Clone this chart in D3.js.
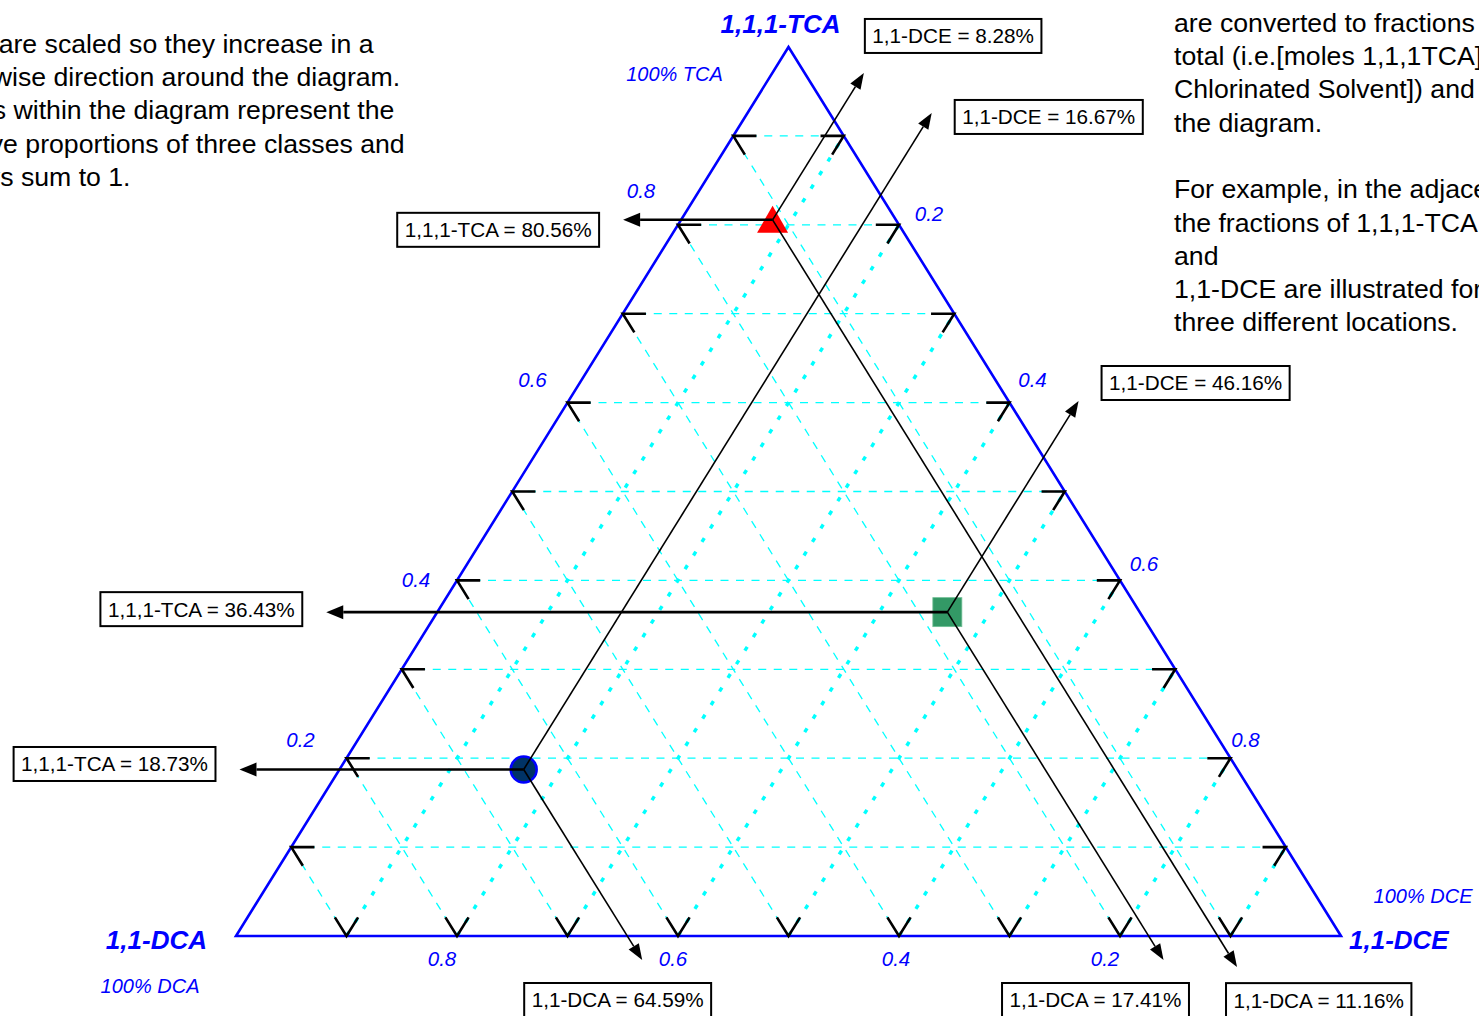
<!DOCTYPE html>
<html>
<head>
<meta charset="utf-8">
<script src="https://cdn.jsdelivr.net/npm/d3@7"></script>
<style>
  html, body { margin: 0; padding: 0; background: #fff; overflow: hidden; }
  svg { display: block; font-family: "Liberation Sans", Arial, sans-serif; }
</style>
</head>
<body>
<svg id="chart" width="1479" height="1016"></svg>
<script>
// ---- Data -------------------------------------------------------------
// Corner components (top, bottom-left, bottom-right)
const components = ["1,1,1-TCA", "1,1-DCA", "1,1-DCE"];
const cornerNotes = ["100% TCA", "100% DCA", "100% DCE"];

// Grid fractions and labelled ticks
const gridFractions = [0.1, 0.2, 0.3, 0.4, 0.5, 0.6, 0.7, 0.8, 0.9];
const tickValues = [0.2, 0.4, 0.6, 0.8];
const tickLabels = ["0.2", "0.4", "0.6", "0.8"];

// Three example compositions, in percent
const sampleShapes = ["triangle", "square", "circle"];
const tcaPct = [80.56, 36.43, 18.73];
const dcePct = [8.28, 46.16, 16.67];
const dcaPct = [11.16, 17.41, 64.59];

// Explanatory notes
const leftNote = [
  "Axes are scaled so they increase in a",
  "clockwise direction around the diagram.",
  "Points within the diagram represent the",
  "relative proportions of three classes and",
  "always sum to 1."
];
const rightNote = [
  "are converted to fractions of the",
  "total (i.e.[moles 1,1,1TCA]/[moles",
  "Chlorinated Solvent]) and plotted on",
  "the diagram.",
  "",
  "For example, in the adjacent diagram,",
  "the fractions of 1,1,1-TCA, 1,1-DCA,",
  "and",
  "1,1-DCE are illustrated for",
  "three different locations."
];

// ---- Layout -----------------------------------------------------------
const W = 1479, H = 1016;
const frame = { left: 236, right: 1341, top: 47, bottom: 936 };
const BLUE = "#0000ff", CYAN = "#00ffff";

// tick label offsets (from the edge point) for 0.2, 0.4, 0.6, 0.8
const leftTickOffset = [[-46, -18], [-41, 0], [-35, -23], [-37, -34]];
const rightTickOffset = [[30, -11], [23, -23], [24, -16], [15, -18]];
const bottomTickOffset = [[-15, 23], [-3, 23], [-5, 23], [-15, 23]];

// callout geometry per sample
const tcaOvershoot = [58, 111, 100];          // px beyond the left edge
const tcaBoxTop = [-7, -20, -22.5];           // box top relative to arrow
const dceOvershoot = [0.0536, 0.0634, 0.0925]; // fraction beyond the right edge
const dceBoxOffset = [[1, -54], [23, -35], [23, -13]];
const dcaOvershoot = [0.035, 0.027, 0.027];    // fraction below the base
const dcaBoxOffset = [[-11, 16], [-161.5, 23], [-118, 23]];

const svg = d3.select("#chart");
svg.append("rect").attr("width", W).attr("height", H).attr("fill", "#fff");

// TCA runs up the height, DCE along the base
const y = d3.scaleLinear().domain([0, 1]).range([frame.bottom, frame.top]);
const x = d3.scaleLinear().domain([0, 1]).range([frame.left, frame.right]);
const pos = (tca, dce) => [x(dce + tca / 2), y(tca)];

// ---- Notes ------------------------------------------------------------
const noteFont = 26.67;
svg.append("g").selectAll("text").data(leftNote).join("text")
  .attr("x", -68).attr("y", (d, i) => 52.6 + i * 33.4)
  .attr("font-size", noteFont).attr("fill", "#000").text(d => d);
svg.append("g").selectAll("text").data(rightNote).join("text")
  .attr("x", 1174).attr("y", (d, i) => 31.7 + i * 33.3)
  .attr("font-size", noteFont).attr("fill", "#000").text(d => d);

// ---- Grid -------------------------------------------------------------
const grid = svg.append("g");
const line = d3.line();
// constant TCA (horizontal)
grid.selectAll(".gT").data(gridFractions).join("path")
  .attr("d", t => line([pos(t, 0), pos(t, 1 - t)]))
  .attr("stroke", CYAN).attr("stroke-width", 1.3).attr("stroke-dasharray", "8,7.5").attr("fill", "none");
// constant DCA (parallel to the right side)
grid.selectAll(".gA").data(gridFractions).join("path")
  .attr("d", a => line([pos(0, 1 - a), pos(1 - a, 0)]))
  .attr("stroke", CYAN).attr("stroke-width", 1.3).attr("stroke-dasharray", "8,7.5").attr("fill", "none");
// constant DCE (parallel to the left side)
grid.selectAll(".gE").data(gridFractions).join("path")
  .attr("d", d => line([pos(0, d), pos(1 - d, d)]))
  .attr("stroke", CYAN).attr("stroke-width", 3.4).attr("stroke-dasharray", "4.5,11.5").attr("fill", "none");

// ---- Triangle frame ---------------------------------------------------
svg.append("path")
  .attr("d", line([pos(1, 0), pos(0, 0), pos(0, 1)]) + "Z")
  .attr("fill", "none").attr("stroke", BLUE).attr("stroke-width", 2.6).attr("stroke-linejoin", "miter");

// ---- Edge tick arrowheads ---------------------------------------------
const arm = 0.021;
const ticks = svg.append("g").attr("stroke", "#000").attr("stroke-width", 2.6).attr("fill", "none");
gridFractions.forEach(t => {
  // left side (TCA)
  ticks.append("path").attr("d", line([pos(t, arm), pos(t, 0), pos(t - arm, arm)]));
  // right side (DCE)
  const d = t;
  ticks.append("path").attr("d", line([pos(1 - d, d - arm), pos(1 - d, d), pos(1 - d - arm, d)]));
  // base (DCA)
  ticks.append("path").attr("d", line([pos(arm, d - arm), pos(0, d), pos(arm, d)]));
});

// ---- Tick labels ------------------------------------------------------
const tickG = svg.append("g").attr("font-size", 20.5).attr("font-style", "italic")
  .attr("fill", BLUE).attr("text-anchor", "middle");
tickValues.forEach((v, i) => {
  const pl = pos(v, 0);
  tickG.append("text").attr("x", pl[0] + leftTickOffset[i][0]).attr("y", pl[1] + leftTickOffset[i][1] + 7).text(tickLabels[i]);
  const pr = pos(1 - v, v);
  tickG.append("text").attr("x", pr[0] + rightTickOffset[i][0]).attr("y", pr[1] + rightTickOffset[i][1] + 7).text(tickLabels[i]);
  const pb = pos(0, 1 - v);
  tickG.append("text").attr("x", pb[0] + bottomTickOffset[i][0]).attr("y", pb[1] + bottomTickOffset[i][1] + 7).text(tickLabels[i]);
});

// ---- Corner titles ----------------------------------------------------
const titleG = svg.append("g").attr("fill", BLUE);
const apex = pos(1, 0), cornerL = pos(0, 0), cornerR = pos(0, 1);
titleG.append("text").attr("x", apex[0] - 8).attr("y", apex[1] - 14).attr("text-anchor", "middle")
  .attr("font-size", 26).attr("font-weight", "bold").attr("font-style", "italic").text(components[0]);
titleG.append("text").attr("x", cornerL[0] - 29).attr("y", cornerL[1] + 13).attr("text-anchor", "end")
  .attr("font-size", 26).attr("font-weight", "bold").attr("font-style", "italic").text(components[1]);
titleG.append("text").attr("x", cornerR[0] + 8).attr("y", cornerR[1] + 13).attr("text-anchor", "start")
  .attr("font-size", 26).attr("font-weight", "bold").attr("font-style", "italic").text(components[2]);
titleG.append("text").attr("x", apex[0] - 114).attr("y", apex[1] + 34).attr("text-anchor", "middle")
  .attr("font-size", 20).attr("font-style", "italic").text(cornerNotes[0]);
titleG.append("text").attr("x", cornerL[0] - 86).attr("y", cornerL[1] + 57).attr("text-anchor", "middle")
  .attr("font-size", 20).attr("font-style", "italic").text(cornerNotes[1]);
titleG.append("text").attr("x", cornerR[0] + 82).attr("y", cornerR[1] - 33).attr("text-anchor", "middle")
  .attr("font-size", 20).attr("font-style", "italic").text(cornerNotes[2]);

// ---- Sample markers ---------------------------------------------------
const samples = tcaPct.map((t, i) => ({
  shape: sampleShapes[i], tca: t / 100, dce: dcePct[i] / 100, dca: dcaPct[i] / 100
}));
const markG = svg.append("g");
samples.forEach(s => {
  const [cx, cy] = pos(s.tca, s.dce);
  if (s.shape === "triangle") {
    markG.append("path").attr("d", line([[cx, cy - 14], [cx + 15.5, cy + 13], [cx - 15.5, cy + 13]]) + "Z")
      .attr("fill", "#ff0000");
  } else if (s.shape === "square") {
    markG.append("rect").attr("x", cx - 14.5).attr("y", cy - 14.5).attr("width", 29).attr("height", 29)
      .attr("fill", "#339966").attr("stroke", "#6fbf95").attr("stroke-width", 0.8);
  } else {
    markG.append("circle").attr("cx", cx).attr("cy", cy).attr("r", 13)
      .attr("fill", "#003366").attr("stroke", BLUE).attr("stroke-width", 2.5);
  }
});

// ---- Reading arrows and value boxes ----------------------------------
const arrowG = svg.append("g");
function arrow(from, tip, width, headLen, headHalf) {
  const dx = tip[0] - from[0], dy = tip[1] - from[1];
  const L = Math.hypot(dx, dy), ux = dx / L, uy = dy / L;
  const base = [tip[0] - ux * headLen, tip[1] - uy * headLen];
  arrowG.append("path").attr("d", line([from, base])).attr("stroke", "#000")
    .attr("stroke-width", width).attr("fill", "none");
  arrowG.append("path").attr("d", line([tip,
    [base[0] - uy * headHalf, base[1] + ux * headHalf],
    [base[0] + uy * headHalf, base[1] - ux * headHalf]]) + "Z").attr("fill", "#000");
}
const boxG = svg.append("g");
function valueBox(left, topY, label, height, anchorRight) {
  const g = boxG.append("g");
  const t = g.append("text").attr("font-size", 20.7).attr("fill", "#000").text(label);
  const w = t.node().getComputedTextLength() + 15;
  const bx = anchorRight ? left - w : left;
  g.insert("rect", "text").attr("x", bx).attr("y", topY).attr("width", w).attr("height", height)
    .attr("fill", "#fff").attr("stroke", "#000").attr("stroke-width", 2);
  t.attr("x", bx + 7.5).attr("y", topY + height / 2 + 7.4);
}
const fmt = v => v.toFixed(2) + "%";
samples.forEach((s, i) => {
  const p = pos(s.tca, s.dce);
  // TCA: horizontal to the left side
  const edgeL = pos(s.tca, 0);
  const tipT = [edgeL[0] - tcaOvershoot[i], edgeL[1]];
  arrow(p, tipT, 2.6, 17, 7);
  valueBox(tipT[0] - 24, tipT[1] + tcaBoxTop[i], components[0] + " = " + fmt(tcaPct[i]), 34, true);
  // DCE: parallel to the left side, up to the right side
  const tipE = pos(1 - s.dce + dceOvershoot[i], s.dce);
  arrow(p, tipE, 1.6, 16, 6);
  valueBox(tipE[0] + dceBoxOffset[i][0], tipE[1] + dceBoxOffset[i][1], components[2] + " = " + fmt(dcePct[i]), 34, false);
  // DCA: parallel to the right side, down to the base
  const tipA = pos(-dcaOvershoot[i], 1 - s.dca + dcaOvershoot[i]);
  arrow(p, tipA, 1.6, 16, 6);
  valueBox(tipA[0] + dcaBoxOffset[i][0], tipA[1] + dcaBoxOffset[i][1], components[1] + " = " + fmt(dcaPct[i]), 34, false);
});
</script>
</body>
</html>
